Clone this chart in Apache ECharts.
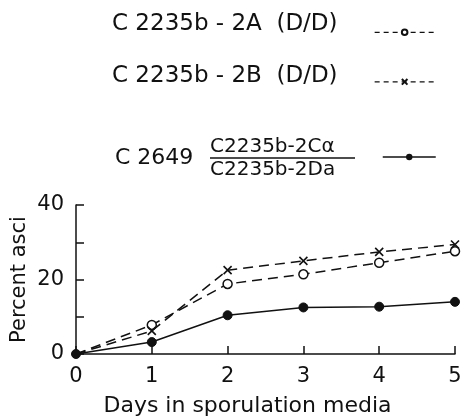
<!DOCTYPE html>
<html>
<head>
<meta charset="utf-8">
<script src="https://cdn.jsdelivr.net/npm/echarts@6/dist/echarts.min.js"></script>
<style>
  html, body { margin: 0; padding: 0; background: #fff; }
  #main { width: 461px; height: 417px; }
</style>
</head>
<body>
<div id="main"></div>
<script>
// days on the x axis, percent asci per strain
const days = [0, 1, 2, 3, 4, 5];
const strainA = [0, 7.8, 18.8, 21.4, 24.5, 27.6]; // C 2235b-2A (D/D), open circles
const strainB = [0, 6.2, 22.5, 25.0, 27.4, 29.4]; // C 2235b-2B (D/D), crosses
const strainC = [0, 3.2, 10.4, 12.5, 12.7, 14.0]; // C 2649 hybrid, filled dots
const yLabels = { 0: "0", 20: "20", 40: "40" };

const ink = "#111";
const font = "DejaVu Sans";
const cross = "path://M0,0L10,10M10,0L0,10";

// the dot at the origin covers the other markers, so hide theirs there
function pairs(vals, hideFirst) {
  return days.map((d, i) =>
    hideFirst && i === 0 ? { value: [d, vals[i]], symbol: "none" } : [d, vals[i]]
  );
}

const chart = echarts.init(document.getElementById("main"));
chart.setOption({
  animation: false,
  backgroundColor: "#fff",
  grid: { left: 76, right: 6, top: 205, bottom: 63, outerBoundsMode: "none" },
  xAxis: {
    type: "value",
    min: 0,
    max: 5,
    interval: 1,
    name: "Days in sporulation media",
    nameLocation: "middle",
    nameGap: 41,
    nameMoveOverlap: false,
    nameTextStyle: { fontFamily: font, fontSize: 22, color: ink, padding: [0, 36, 0, 0] },
    axisLine: { lineStyle: { color: ink, width: 1.5 } },
    axisTick: { inside: true, length: 8, lineStyle: { color: ink, width: 1.5 } },
    axisLabel: { fontFamily: font, fontSize: 21, color: ink, margin: 12 },
    splitLine: { show: false },
  },
  yAxis: {
    type: "value",
    min: 0,
    max: 40,
    interval: 10,
    name: "Percent asci",
    nameLocation: "middle",
    nameGap: 46,
    nameMoveOverlap: false,
    nameTextStyle: { fontFamily: font, fontSize: 21, color: ink },
    axisLine: { show: true, lineStyle: { color: ink, width: 1.5 } },
    axisTick: { show: true, inside: true, length: 8, lineStyle: { color: ink, width: 1.5 } },
    axisLabel: {
      fontFamily: font,
      fontSize: 21,
      color: ink,
      margin: 12,
      formatter: (v) => yLabels[v] || "",
    },
    splitLine: { show: false },
  },
  legend: [
    {
      data: ["C 2235b-2A (D/D)"],
      left: 374, top: 28.5, padding: 0,
      itemWidth: 60, itemHeight: 7,
      selectedMode: false,
      formatter: () => "",
      lineStyle: { type: [5, 4], width: 1.3 },
    },
    {
      data: ["C 2235b-2B (D/D)"],
      left: 374, top: 76.5, padding: 0,
      itemWidth: 60, itemHeight: 7,
      selectedMode: false,
      formatter: () => "",
      lineStyle: { type: [5, 4], width: 1.3 },
    },
    {
      data: ["C 2649"],
      left: 382, top: 153, padding: 0,
      itemWidth: 53, itemHeight: 8,
      selectedMode: false,
      formatter: () => "",
      lineStyle: { width: 1.5 },
    },
  ],
  graphic: [
    { type: "text", left: 112, top: 13, style: { text: "C 2235b - 2A  (D/D)", font: "23px " + font, fill: ink } },
    { type: "text", left: 112, top: 65, style: { text: "C 2235b - 2B  (D/D)", font: "23px " + font, fill: ink } },
    { type: "text", left: 115, top: 147, style: { text: "C 2649", font: "22px " + font, fill: ink } },
    { type: "text", left: 210, top: 137, style: { text: "C2235b-2Cα", font: "20px " + font, fill: ink } },
    { type: "text", left: 210, top: 160, style: { text: "C2235b-2Da", font: "20px " + font, fill: ink } },
    { type: "line", shape: { x1: 210, y1: 158, x2: 355, y2: 158 }, style: { stroke: ink, lineWidth: 1.3 } },
  ],
  series: [
    {
      name: "C 2235b-2A (D/D)",
      type: "line",
      data: pairs(strainA, true),
      symbol: "circle",
      symbolSize: 9,
      itemStyle: { color: "#fff", borderColor: ink, borderWidth: 1.5 },
      lineStyle: { color: ink, width: 1.5, type: [10, 6] },
    },
    {
      name: "C 2235b-2B (D/D)",
      type: "line",
      data: pairs(strainB, true),
      symbol: cross,
      symbolSize: 8,
      itemStyle: { color: "none", borderColor: ink, borderWidth: 1.6 },
      lineStyle: { color: ink, width: 1.5, type: [10, 6] },
    },
    {
      name: "C 2649",
      type: "line",
      data: pairs(strainC, false),
      symbol: "circle",
      symbolSize: 9,
      itemStyle: { color: ink, borderColor: ink },
      lineStyle: { color: ink, width: 1.5 },
    },
  ],
});
</script>
</body>
</html>
